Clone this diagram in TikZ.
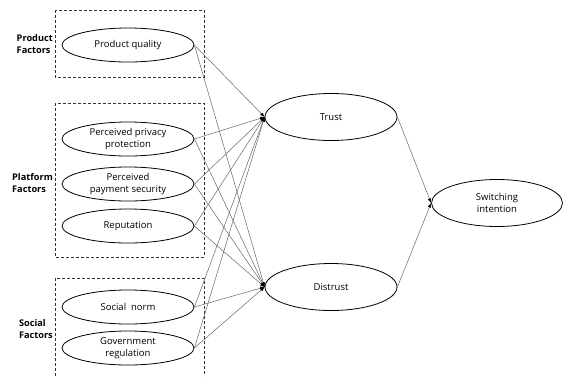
\documentclass[tikz,border=0pt]{standalone}
\usepackage{fontspec}
\setmainfont{Open Sans}
\usetikzlibrary{arrows.meta,shapes.geometric}
\begin{document}
\begin{tikzpicture}[x=1pt,y=-1pt,
  var/.style={draw=black,line width=0.8pt,ellipse,minimum width=132pt,minimum height=34pt,inner sep=0pt,font=\fontsize{9.5}{11.5}\selectfont,align=center},
  big/.style={var,minimum height=47pt},
  grp/.style={draw=black!80,line width=0.7pt,dash pattern=on 3pt off 2pt},
  lab/.style={font=\bfseries\fontsize{9.2}{11.5}\selectfont,align=left,anchor=east,inner sep=0pt},
  path/.style={draw=black!60,line width=0.5pt,-{Latex[length=4.5pt,width=3.5pt,color=black]}}]
\useasboundingbox (0,0) rectangle (563,376);
\draw[grp] (55,10) rectangle (204,77);
\draw[grp] (55,103) rectangle (204,257);
\draw[grp] (55,376) -- (55,278) -- (204,278) -- (204,376);
\node[lab] at (53,44) {Product\\Factors};
\node[lab] at (53,183) {Platform\\Factors};
\node[lab] at (53,329) {Social\\Factors};
\node[var] (pq) at (128,45) {Product quality};
\node[var] (pp) at (128,139) {Perceived privacy\\protection};
\node[var] (ps) at (128,184) {Perceived\\payment security};
\node[var] (re) at (128,226) {Reputation};
\node[var] (sn) at (128,307) {Social\ \ norm};
\node[var] (gr) at (128,348) {Government\\regulation};
\node[big] (tr) at (331,117) {Trust};
\node[big] (di) at (331,287) {Distrust};
\node[big,minimum width=131pt] (si) at (497,203) {Switching\\intention};
\foreach \s in {pq,pp,ps,re,sn,gr}{
  \draw[path] (\s.east) -- (tr.west);
  \draw[path] (\s.east) -- (di.west);
}
\draw[path] (tr.east) -- (si.west);
\draw[path] (di.east) -- (si.west);
\end{tikzpicture}
\end{document}
